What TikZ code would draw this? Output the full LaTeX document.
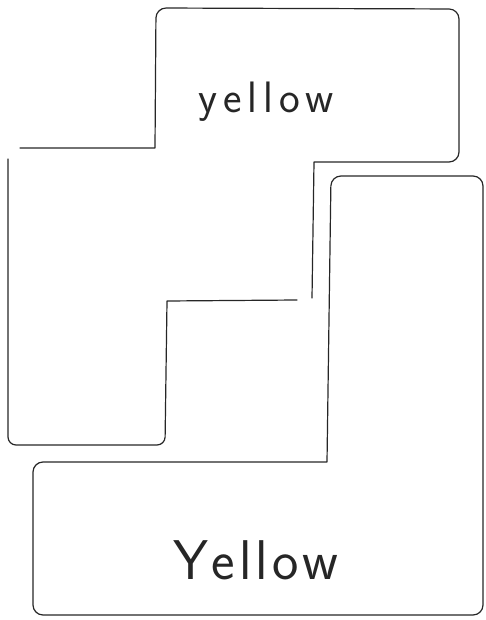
\documentclass[tikz,border=0pt]{standalone}
\usepackage{tikz}
\usetikzlibrary{calc}
\colorlet{pencil}{black!85}
\tikzset{
  outline/.style={draw=pencil,line width=1.2pt,line cap=round,line join=round},
  scrawl/.style={anchor=base,text=pencil}
}
\begin{document}
\begin{tikzpicture}[x=1pt,y=-1pt]
\useasboundingbox (0,0) rectangle (485,620);
% upper staircase
\coordinate (TL) at (156,8);
\coordinate (TR) at (459,9);
\coordinate (BR) at (459,162);
\coordinate (M1) at (314,162);
\coordinate (M2) at (312,298);
\coordinate (S1) at (167,301);
\coordinate (S2) at (165,445);
\coordinate (LB) at (8,445);
\coordinate (LT) at (8,159);
\coordinate (K1) at (20,148);
\coordinate (K2) at (155,148);
\draw[outline] (K1) -- (K2) [rounded corners=10pt] -- (TL) -- (TR) -- (BR) [sharp corners] -- (M1) -- (M2);
\draw[outline] (297,300) -- (S1) [rounded corners=8pt] -- (S2) -- (LB) [sharp corners] -- (LT);
% lower staircase
\coordinate (R1) at (331,176);
\coordinate (R2) at (483,176);
\coordinate (R3) at (483,615);
\coordinate (B1) at (33,615);
\coordinate (B2) at (33,462);
\coordinate (R4) at (327,462);
\draw[outline] (R4) [rounded corners=10pt] -- (R1) -- (R2) -- (R3) -- (B1) -- (B2) [sharp corners] -- (R4);
% labels
\node[scrawl,font=\sffamily\fontsize{44}{48}\selectfont] (top) at (266,113)
  {y\kern6pt e\kern6pt l\kern6pt l\kern6pt o\kern6pt w};
\node[scrawl,font=\sffamily\fontsize{56}{60}\selectfont] (bottom) at (256,579)
  {Y\kern3pt e\kern4pt l\kern4pt l\kern4pt o\kern4pt w};
\end{tikzpicture}
\end{document}
